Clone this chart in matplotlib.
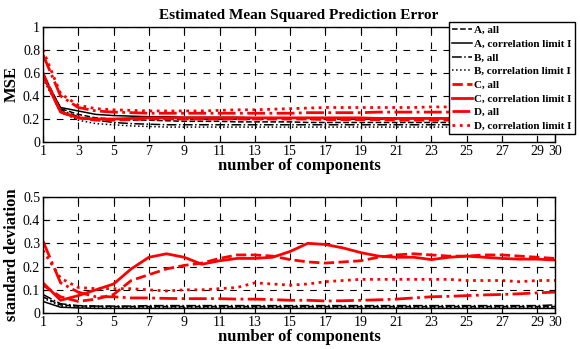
import numpy as np
import matplotlib
matplotlib.use("Agg")
import matplotlib.pyplot as plt

plt.rcParams['font.family'] = ['Liberation Serif', 'DejaVu Serif']

comps = list(range(1, 31))
xticks = [1, 3, 5, 7, 9, 11, 13, 15, 17, 19, 21, 23, 25, 27, 29, 30]

labels = ["A, all", "A, correlation limit I", "B, all", "B, correlation limit I",
          "C, all", "C, correlation limit I", "D, all", "D, correlation limit I"]

# MSE per number of components
mse_A_all = [0.60, 0.29, 0.24, 0.21, 0.20, 0.19, 0.19, 0.185, 0.18, 0.18,
             0.18, 0.175, 0.175, 0.175, 0.175, 0.17, 0.17, 0.17, 0.17, 0.17,
             0.17, 0.17, 0.17, 0.17, 0.17, 0.17, 0.17, 0.17, 0.17, 0.17]
mse_A_corr = [0.58, 0.30, 0.27, 0.24, 0.23, 0.225, 0.22, 0.22, 0.215, 0.215,
              0.215, 0.215, 0.21, 0.21, 0.21, 0.21, 0.21, 0.21, 0.21, 0.21,
              0.205, 0.205, 0.205, 0.205, 0.205, 0.205, 0.205, 0.205, 0.205, 0.205]
mse_B_all = [0.57, 0.28, 0.22, 0.19, 0.17, 0.16, 0.155, 0.15, 0.15, 0.15,
             0.15, 0.15, 0.15, 0.15, 0.15, 0.15, 0.15, 0.15, 0.15, 0.15,
             0.15, 0.15, 0.15, 0.15, 0.15, 0.15, 0.15, 0.15, 0.15, 0.15]
mse_B_corr = [0.55, 0.26, 0.19, 0.16, 0.15, 0.14, 0.135, 0.13, 0.13, 0.13,
              0.13, 0.13, 0.13, 0.13, 0.13, 0.13, 0.13, 0.13, 0.13, 0.13,
              0.13, 0.13, 0.13, 0.13, 0.13, 0.13, 0.13, 0.13, 0.13, 0.13]
mse_C_all = [0.60, 0.26, 0.21, 0.19, 0.19, 0.195, 0.20, 0.20, 0.20, 0.20,
             0.20, 0.20, 0.20, 0.20, 0.20, 0.20, 0.195, 0.195, 0.195, 0.195,
             0.19, 0.19, 0.19, 0.19, 0.19, 0.19, 0.19, 0.19, 0.19, 0.19]
mse_C_corr = [0.58, 0.26, 0.21, 0.20, 0.20, 0.205, 0.21, 0.21, 0.21, 0.21,
              0.21, 0.21, 0.21, 0.21, 0.21, 0.21, 0.21, 0.21, 0.21, 0.205,
              0.205, 0.205, 0.205, 0.205, 0.205, 0.205, 0.205, 0.205, 0.205, 0.205]
mse_D_all = [0.76, 0.40, 0.30, 0.27, 0.26, 0.255, 0.25, 0.25, 0.25, 0.25,
             0.25, 0.25, 0.25, 0.25, 0.25, 0.255, 0.255, 0.255, 0.255, 0.26,
             0.26, 0.26, 0.26, 0.26, 0.26, 0.26, 0.26, 0.26, 0.26, 0.26]
mse_D_corr = [0.80, 0.42, 0.32, 0.29, 0.28, 0.275, 0.27, 0.27, 0.27, 0.27,
              0.275, 0.28, 0.28, 0.285, 0.29, 0.295, 0.30, 0.30, 0.30, 0.30,
              0.30, 0.30, 0.305, 0.305, 0.305, 0.31, 0.31, 0.31, 0.31, 0.31]

# standard deviation per number of components
std_A_all = [0.07, 0.035, 0.03, 0.03, 0.028, 0.028, 0.028, 0.028, 0.028, 0.028,
             0.028, 0.028, 0.028, 0.028, 0.028, 0.028, 0.028, 0.028, 0.028, 0.028,
             0.028, 0.028, 0.028, 0.028, 0.028, 0.028, 0.028, 0.028, 0.028, 0.028]
std_A_corr = [0.05, 0.025, 0.022, 0.02, 0.02, 0.02, 0.02, 0.02, 0.02, 0.02,
              0.02, 0.02, 0.02, 0.02, 0.02, 0.02, 0.02, 0.02, 0.02, 0.02,
              0.02, 0.02, 0.02, 0.02, 0.02, 0.02, 0.02, 0.02, 0.02, 0.02]
std_B_all = [0.08, 0.04, 0.032, 0.03, 0.03, 0.03, 0.032, 0.032, 0.032, 0.032,
             0.032, 0.032, 0.032, 0.032, 0.032, 0.032, 0.032, 0.032, 0.032, 0.032,
             0.032, 0.032, 0.032, 0.032, 0.032, 0.032, 0.032, 0.032, 0.032, 0.035]
std_B_corr = [0.065, 0.03, 0.025, 0.025, 0.025, 0.025, 0.025, 0.025, 0.025, 0.025,
              0.025, 0.025, 0.025, 0.025, 0.025, 0.025, 0.025, 0.025, 0.025, 0.025,
              0.025, 0.025, 0.025, 0.025, 0.025, 0.025, 0.025, 0.025, 0.025, 0.025]
std_C_all = [0.12, 0.07, 0.05, 0.06, 0.08, 0.14, 0.165, 0.19, 0.205, 0.215,
             0.235, 0.25, 0.25, 0.245, 0.23, 0.22, 0.215, 0.22, 0.225, 0.24,
             0.25, 0.255, 0.25, 0.245, 0.245, 0.25, 0.25, 0.245, 0.24, 0.235]
std_C_corr = [0.13, 0.055, 0.075, 0.10, 0.125, 0.19, 0.24, 0.255, 0.24, 0.21,
              0.225, 0.235, 0.235, 0.24, 0.265, 0.30, 0.295, 0.28, 0.26, 0.245,
              0.24, 0.24, 0.23, 0.24, 0.245, 0.24, 0.235, 0.232, 0.232, 0.228]
std_D_all = [0.31, 0.13, 0.09, 0.07, 0.07, 0.065, 0.065, 0.063, 0.062, 0.062,
             0.062, 0.06, 0.06, 0.058, 0.055, 0.055, 0.052, 0.053, 0.055, 0.057,
             0.06, 0.065, 0.07, 0.072, 0.075, 0.078, 0.08, 0.083, 0.087, 0.09]
std_D_corr = [0.27, 0.15, 0.11, 0.105, 0.105, 0.105, 0.10, 0.095, 0.10, 0.10,
              0.105, 0.11, 0.13, 0.125, 0.12, 0.125, 0.135, 0.14, 0.145, 0.145,
              0.145, 0.145, 0.145, 0.145, 0.14, 0.14, 0.14, 0.135, 0.14, 0.14]

mse = [mse_A_all, mse_A_corr, mse_B_all, mse_B_corr,
       mse_C_all, mse_C_corr, mse_D_all, mse_D_corr]
std = [std_A_all, std_A_corr, std_B_all, std_B_corr,
       std_C_all, std_C_corr, std_D_all, std_D_corr]

colors = ['black'] * 4 + ['red'] * 4
styles = ['--', '-', '-.', ':'] * 2
widths = [1.1] * 4 + [2.0] * 4

fig = plt.figure(figsize=(5.8, 3.49), dpi=100)
ax1 = fig.add_axes([0.074, 0.593, 0.883, 0.330])
ax2 = fig.add_axes([0.074, 0.103, 0.883, 0.333])

for i in range(8):
    ax1.plot(comps, mse[i], color=colors[i], ls=styles[i], lw=widths[i], label=labels[i])
    ax2.plot(comps, std[i], color=colors[i], ls=styles[i], lw=widths[i])

for ax, top, yt in [(ax1, 1, [0, 0.2, 0.4, 0.6, 0.8, 1]), (ax2, 0.5, [0, 0.1, 0.2, 0.3, 0.4, 0.5])]:
    ax.set_xlim(1, 30)
    ax.set_ylim(0, top)
    ax.set_xticks(xticks)
    ax.set_yticks(yt)
    ax.set_yticklabels([("%g" % v) for v in yt])
    ax.tick_params(direction='in', top=True, right=True, labelsize=10, length=4, pad=2)
    ax.grid(True, color='black', ls=(0, (6, 6)), lw=0.8)
    ax.set_xlabel("number of components", fontsize=12, fontweight='bold', labelpad=0)
    for s in ax.spines.values():
        s.set_linewidth(1.0)

ax1.set_ylabel("MSE", fontsize=12, fontweight='bold', labelpad=2)
ax2.set_ylabel("standard deviation", fontsize=12, fontweight='bold', labelpad=2)
ax1.set_title("Estimated Mean Squared Prediction Error", fontsize=11, fontweight='bold', pad=6)

leg = fig.legend(loc='upper right', bbox_to_anchor=(575 / 580, 1 - 22 / 349),
                 prop={'weight': 'bold', 'size': 8}, handlelength=1.8, handletextpad=0.2,
                 labelspacing=0.35, borderpad=0.3, fancybox=False, framealpha=1,
                 borderaxespad=0)
leg.get_frame().set_edgecolor('black')
leg.get_frame().set_linewidth(1.0)

fig.savefig("out.png", dpi=100)
